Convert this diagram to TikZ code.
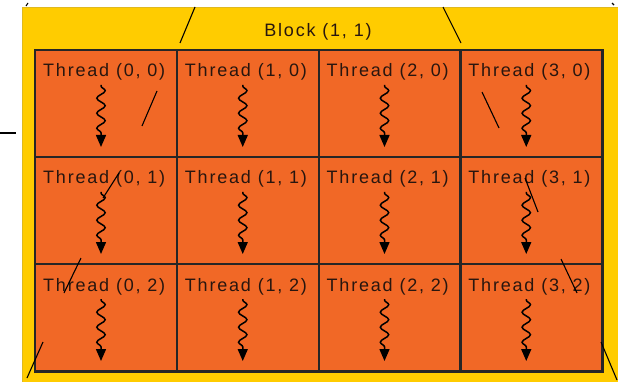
\documentclass[tikz,border=0pt]{standalone}
\usepackage{fontspec}
\setmainfont{Liberation Sans}
\usetikzlibrary{arrows.meta,decorations.pathmorphing}
\definecolor{bcolor}{RGB}{255,204,0}
\definecolor{tcolor}{RGB}{241,104,38}
\definecolor{lcolor}{RGB}{40,22,15}

\begin{document}
\begin{tikzpicture}[
    x = 1pt, y = -1pt,
    font = {\fontsize{18}{20}\selectfont\addfontfeature{LetterSpace=10}},
    >={Triangle[length = 12pt, width = 10pt]},
    cell/.style ={rectangle, fill = tcolor, minimum width = \CW pt, minimum height = \CH pt, inner sep = 0pt, anchor = north west},
    lbl/.style ={text = lcolor, anchor = base west, inner sep = 0pt},
    wig/.style ={->, line width = 1.5pt, decorate, decoration = {snake, amplitude = 4.2pt, segment length = 15pt, pre length = 1pt, post length = 12pt}},
    stray/.style ={line width = 1.1pt, black}
    ]

\def\CW{141.75} % cell width
\def\CH{107}    % cell height
\def\GX{35}     % grid left
\def\GY{50}     % grid top

    \useasboundingbox [fill = white] (0, 0) rectangle (618, 382);
    \fill [bcolor, draw = bcolor!75!gray, line width = 0.8pt] (22, 7) rectangle (619, 383);
    \node [lbl, anchor = base] (blk) at (318, 37) {Block (1, 1)};

    \foreach \i in {0,...,3}{
        \foreach \j in {0,...,2}{
            \node [cell] (t-\i-\j) at ({\GX + \i*\CW}, {\GY + \j*\CH}) {};
        };
    };
    % grid lines
    \foreach \i in {0,...,3}{
        \foreach \j in {0,...,2}{
            \draw [black!85, line width = 1.8pt] (t-\i-\j.north west) rectangle (t-\i-\j.south east);
        };
    };
    \draw [black!85, line width = 2.2pt] (t-0-0.north west) rectangle (t-3-2.south east);

    \foreach \i in {0,...,3}{
        \foreach \j in {0,...,2}{
            \node [lbl] (l-\i-\j) at ([xshift = 8pt, yshift = -27pt]t-\i-\j.north west) {Thread (\i, \j)};
            \coordinate (s-\i-\j) at ([xshift = 66pt, yshift = -35pt]t-\i-\j.north west);
            \coordinate (e-\i-\j) at ([xshift = 66pt, yshift = -97pt]t-\i-\j.north west);
            \draw [wig] (s-\i-\j) -- (e-\i-\j);
        };
    };

    % stray strokes
    \foreach \a/\b/\c/\d in {195/7/180/43, 443/7/461/43, 157/91/142/126, 482/92/499/128,
                             0/133/16/133, 119/173/103/198, 525/178/538/212, 81/258/64/293,
                             561/259/577/293, 43/342/27/378, 601/342/617/380,
                             28/3/26/6, 612/3/614/5}{
        \draw [stray] (\a, \b) -- (\c, \d);
    }
\end{tikzpicture}
\end{document}
